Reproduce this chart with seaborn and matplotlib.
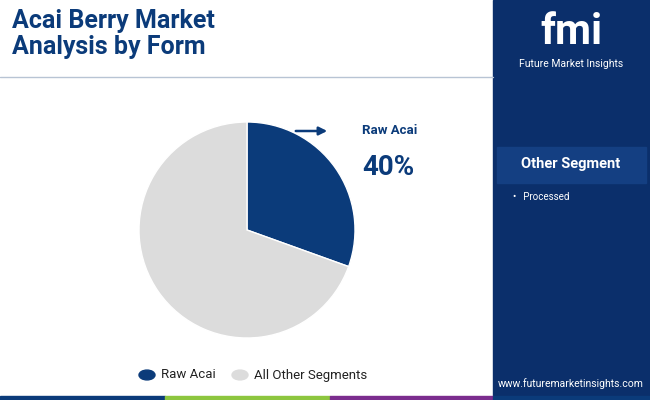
import matplotlib
matplotlib.use("Agg")
import matplotlib.pyplot as plt
import seaborn as sns
from matplotlib.patches import Rectangle, Circle
from matplotlib.lines import Line2D

sns.set_theme(style="white")
plt.rcParams['font.family'] = ['Roboto', 'DejaVu Sans']

# data
segments = ["Raw Acai", "All Other Segments"]
shares = [30.5, 69.5]          # slice sizes as drawn
label_value = "40%"
colors = ["#0b3b7a", "#dcdcdc"]
other_items = ["Processed"]

fig = plt.figure(figsize=(6.5, 4), dpi=100)
fig.patch.set_facecolor("white")

# right panel
fig.patches.append(Rectangle((493/650, 0), 157/650, 1, transform=fig.transFigure,
                             color="#0b2f6b", zorder=0))
# bottom strip
strip = [("#0b3b7a", 0, 165), ("#8dc63f", 165, 330), ("#7b2d8e", 330, 493), ("#0b3b7a", 493, 650)]
for c, x0, x1 in strip:
    fig.patches.append(Rectangle((x0/650, 0), (x1-x0)/650, 4/400, transform=fig.transFigure,
                                 color=c, zorder=1))
fig.lines.append(Line2D([0, 493/650], [1 - 77/400, 1 - 77/400], transform=fig.transFigure,
                        color="#b8c4d4", lw=1))

fig.text(12/650, 1 - 34/400, "Acai Berry Market\nAnalysis by Form", fontsize=18, fontweight="bold",
         color="#0b3b7a", va="center", ha="left", linespacing=1.15)

ax = fig.add_axes([139/650, 62/400, 216/650, 216/400])
ax.pie(shares, colors=colors, startangle=90, counterclock=False)
ax.set_xlim(-1, 1)
ax.set_ylim(-1, 1)
ax.set_aspect("equal")

ax.annotate("", xy=(330/650, 1 - 131/400), xytext=(293/650, 1 - 131/400),
            xycoords="figure fraction", textcoords="figure fraction",
            arrowprops=dict(arrowstyle="-|>", color="#0b3b7a", lw=1.8))
fig.text(362/650, 1 - 131/400, segments[0], fontsize=9.5, fontweight="bold", color="#0b3b7a", va="center")
fig.text(362/650, 1 - 168/400, label_value, fontsize=20, fontweight="bold", color="#0b3b7a", va="center")

# legend
lx = [147, 240]
for i, (s, c) in enumerate(zip(segments, colors)):
    fig.patches.append(Circle((lx[i]/650, 1 - 375/400), 8/650, transform=fig.transFigure, color=c))
    fig.text((lx[i] + 14)/650, 1 - 375/400, s, fontsize=9.5, color="#222222", va="center")

# right panel text
fig.text(571/650, 1 - 32/400, "fmi", fontsize=30, fontweight="bold", color="white", ha="center", va="center")
fig.text(571/650, 1 - 64/400, "Future Market Insights", fontsize=7.5, color="white", ha="center", va="center")
fig.patches.append(Rectangle((497/650, 1 - 183/400), 149/650, 36/400, transform=fig.transFigure,
                             color="#143f82", zorder=1))
fig.text(571/650, 1 - 164/400, "Other Segment", fontsize=10.5, fontweight="bold", color="white",
         ha="center", va="center")
for i, it in enumerate(other_items):
    fig.text(513/650, 1 - (197 + 15*i)/400, "\u2022   " + it, fontsize=7, color="white", va="center")
fig.text(571/650, 1 - 384/400, "www.futuremarketinsights.com", fontsize=7.5, color="white",
         ha="center", va="center")

fig.savefig("out.png", dpi=100)
